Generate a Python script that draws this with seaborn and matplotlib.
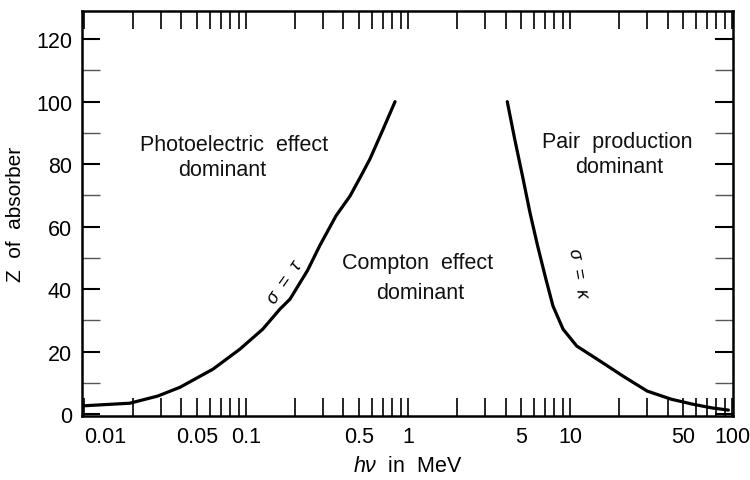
"""
Photon interaction regions vs Z and photon energy.
"""
import numpy as np
import pandas as pd
import matplotlib
matplotlib.use("Agg")
import matplotlib.pyplot as plt
import matplotlib.ticker as mticker
import seaborn as sns

# curve sigma = tau (photoelectric / Compton boundary)
tau_energy = [0.0094, 0.0192, 0.0286, 0.0392, 0.0626, 0.0918, 0.127, 0.162, 0.187,
              0.24, 0.286, 0.36, 0.439, 0.51, 0.582, 0.70, 0.832]
tau_z = [2.6, 3.5, 5.8, 8.6, 14.4, 20.8, 27.2, 33.6, 36.8,
         46.0, 54.0, 63.5, 69.8, 76.0, 81.6, 91.0, 100.0]

# curve sigma = kappa (Compton / pair production boundary)
kappa_energy = [4.1, 4.57, 5.1, 5.66, 6.3, 7.1, 7.85, 9.06, 11.0, 14.7,
                21.2, 29.9, 42.0, 57.0, 75.0, 95.0]
kappa_z = [100.0, 87.7, 76.0, 64.5, 54.0, 43.2, 34.6, 27.2, 21.8, 17.6,
           12.2, 7.4, 4.8, 3.2, 2.0, 1.3]

xtick_vals = [0.01, 0.05, 0.1, 0.5, 1, 5, 10, 50, 100]
xtick_text = ["0.01", "0.05", "0.1", "0.5", "1", "5", "10", "50", "100"]
ytick_vals = [0, 20, 40, 60, 80, 100, 120]

sns.set_theme(style="ticks")
plt.rcParams["font.family"] = ["Liberation Sans", "DejaVu Sans"]
plt.rcParams["mathtext.fontset"] = "custom"
plt.rcParams["mathtext.it"] = "Liberation Sans:italic"
plt.rcParams["mathtext.rm"] = "Liberation Sans"
plt.rcParams["text.color"] = "black"
plt.rcParams["axes.labelcolor"] = "black"
plt.rcParams["xtick.labelcolor"] = "black"
plt.rcParams["ytick.labelcolor"] = "black"

df = pd.concat([
    pd.DataFrame({"energy": tau_energy, "z": tau_z, "curve": "tau"}),
    pd.DataFrame({"energy": kappa_energy, "z": kappa_z, "curve": "kappa"}),
])

fig = plt.figure(figsize=(7.5, 4.81), dpi=100)
ax = fig.add_axes([0.109, 0.133, 0.868, 0.842])

sns.lineplot(data=df, x="energy", y="z", units="curve", estimator=None, sort=False,
             color="black", linewidth=2.3, ax=ax)

ax.set_xscale("log")
ax.set_xlim(0.0097, 101)
ax.set_ylim(-0.6, 129)

ax.xaxis.set_major_locator(mticker.FixedLocator(xtick_vals))
ax.xaxis.set_major_formatter(mticker.FixedFormatter(xtick_text))
ax.xaxis.set_minor_locator(mticker.LogLocator(base=10, subs=np.arange(2, 10), numticks=20))
ax.xaxis.set_minor_formatter(mticker.NullFormatter())
ax.yaxis.set_major_locator(mticker.FixedLocator(ytick_vals))
ax.yaxis.set_minor_locator(mticker.MultipleLocator(10))

ax.tick_params(axis="x", which="both", direction="in", top=True, bottom=True,
               length=13, width=1.2, color="black", labelsize=15.5, pad=7)
ax.tick_params(axis="y", which="major", direction="in", left=True, right=True,
               length=13, width=1.5, color="black", labelsize=15.5, pad=7)
ax.tick_params(axis="y", which="minor", direction="in", left=True, right=True,
               length=13, width=1.0, color="#555555")
for lab in ax.get_xticklabels():
    if lab.get_text() == "0.01":
        lab.set_horizontalalignment("left")

for s in ax.spines.values():
    s.set_linewidth(1.8)
    s.set_color("black")

ax.set_xlabel(r"$h\nu$  in  MeV", fontsize=15.5, labelpad=6)
ax.set_ylabel("Z  of  absorber", fontsize=15, labelpad=8)

txt = dict(fontsize=15.5, color="#111111", transform=ax.transAxes, ha="center", va="center")
ax.text(0.234, 0.67, "Photoelectric  effect", **txt)
ax.text(0.215, 0.608, "dominant", **txt)
ax.text(0.516, 0.378, "Compton  effect", **txt)
ax.text(0.52, 0.304, "dominant", **txt)
ax.text(0.822, 0.677, "Pair  production", **txt)
ax.text(0.826, 0.615, "dominant", **txt)
ax.text(0.313, 0.333, r"$\sigma$  =  $\tau$", fontsize=13, rotation=55,
        transform=ax.transAxes, ha="center", va="center")
ax.text(0.762, 0.352, r"$\sigma$  =  $\kappa$", fontsize=13, rotation=-80,
        transform=ax.transAxes, ha="center", va="center")

fig.savefig("out.png", dpi=100)
